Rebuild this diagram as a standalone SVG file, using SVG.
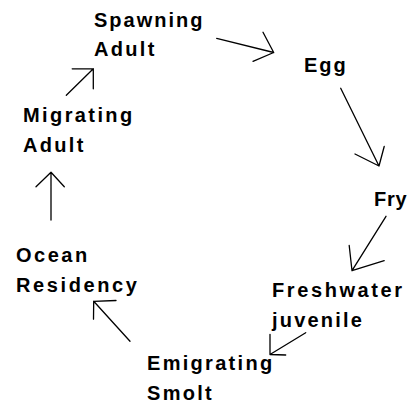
<svg xmlns="http://www.w3.org/2000/svg" width="409" height="404" viewBox="0 0 409 404">
<style>
.t{font-family:"Liberation Sans",Arial,sans-serif;font-weight:bold;font-size:20px;letter-spacing:2.3px;fill:#000}
.c{fill:none;stroke:#000;stroke-width:1.3;stroke-linecap:round;stroke-linejoin:round}
</style>
<rect width="409" height="404" fill="#fff"/>
<g id="spawning-adult"><text class="t" x="94" y="27" style="letter-spacing:2px">Spawning</text><text class="t" x="94" y="56">Adult</text></g>
<g id="egg"><text class="t" x="304" y="72" style="letter-spacing:2px">Egg</text></g>
<g id="fry"><text class="t" x="374" y="206" style="letter-spacing:0.8px">Fry</text></g>
<g id="freshwater-juvenile"><text class="t" x="272" y="297" style="letter-spacing:2.6px">Freshwater</text><text class="t" x="272" y="327" style="letter-spacing:2.2px">juvenile</text></g>
<g id="emigrating-smolt"><text class="t" x="147" y="370">Emigrating</text><text class="t" x="147" y="400">Smolt</text></g>
<g id="ocean-residency"><text class="t" x="16" y="262" style="letter-spacing:2.5px">Ocean</text><text class="t" x="16" y="292" style="letter-spacing:2.6px">Residency</text></g>
<g id="migrating-adult"><text class="t" x="23" y="122" style="letter-spacing:2.4px">Migrating</text><text class="t" x="23" y="152">Adult</text></g>
<g id="connectors">
<path class="c" d="M216.7 38.3L273.7 52.5M263 32.3L273.7 52.5L253 61.3"/>
<path class="c" d="M340.7 88.3L379 166M384.2 146.5L379 166L355 154"/>
<path class="c" d="M386 216.3L352 270.7M349.2 245.5L352 270.7L384.2 260.7"/>
<path class="c" d="M305.7 332.7L270 354.5M270 334.3L270 354.5L285.7 355"/>
<path class="c" d="M130 341.3L93.7 301.3M116 300.5L93.7 301.3L93.5 319.2"/>
<path class="c" d="M51 220L51 172.3M36 186.7L51 172.3L64.3 186.7"/>
<path class="c" d="M66.3 95.3L93.3 68.8M72.2 68.8L93.3 68.8L93.3 88.8"/>
</g>
</svg>
